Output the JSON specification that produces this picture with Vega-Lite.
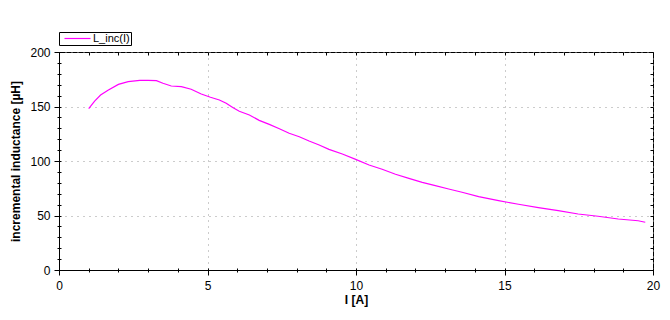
{
  "$schema": "https://vega.github.io/schema/vega-lite/v6.json",
  "width": 594,
  "height": 218,
  "autosize": "none",
  "padding": {"left": 59, "top": 52, "right": 17, "bottom": 50},
  "background": "white",
  "config": {
    "font": "Liberation Sans",
    "view": {"stroke": "black", "strokeWidth": 1},
    "axis": {
      "labelFont": "Liberation Sans",
      "titleFont": "Liberation Sans",
      "labelColor": "black",
      "titleColor": "black",
      "tickColor": "black",
      "domainColor": "black",
      "labelFontSize": 12,
      "titleFontSize": 12,
      "titleFontWeight": "bold"
    }
  },
  "data": {
    "values": [
      {"I": 1.0, "L": 148},
      {"I": 1.2, "L": 155},
      {"I": 1.4, "L": 160.5},
      {"I": 1.65, "L": 165},
      {"I": 2.0, "L": 170.3},
      {"I": 2.33, "L": 172.8},
      {"I": 2.72, "L": 174},
      {"I": 3.0, "L": 174},
      {"I": 3.28, "L": 173.7},
      {"I": 3.5, "L": 171.3},
      {"I": 3.78, "L": 168.8},
      {"I": 4.12, "L": 168.2},
      {"I": 4.45, "L": 165.8},
      {"I": 4.79, "L": 161.5},
      {"I": 5.1, "L": 158.5},
      {"I": 5.4, "L": 156},
      {"I": 5.63, "L": 153},
      {"I": 5.85, "L": 149},
      {"I": 6.07, "L": 145.6},
      {"I": 6.41, "L": 142.2},
      {"I": 6.74, "L": 137.3},
      {"I": 7.08, "L": 133.6},
      {"I": 7.42, "L": 129.6},
      {"I": 7.75, "L": 125.4},
      {"I": 8.09, "L": 122.3},
      {"I": 8.42, "L": 118.3},
      {"I": 8.76, "L": 114.7},
      {"I": 9.09, "L": 110.7},
      {"I": 9.54, "L": 106.4},
      {"I": 9.99, "L": 101.5},
      {"I": 10.44, "L": 96.3},
      {"I": 10.88, "L": 92.4},
      {"I": 11.33, "L": 87.8},
      {"I": 11.78, "L": 84.1},
      {"I": 12.23, "L": 80.4},
      {"I": 12.67, "L": 77.4},
      {"I": 13.12, "L": 74.3},
      {"I": 13.57, "L": 71.3},
      {"I": 14.13, "L": 67.3},
      {"I": 14.8, "L": 63.6},
      {"I": 15.47, "L": 60.3},
      {"I": 16.14, "L": 57.2},
      {"I": 16.81, "L": 54.4},
      {"I": 17.48, "L": 51.4},
      {"I": 18.15, "L": 49.3},
      {"I": 18.83, "L": 46.8},
      {"I": 19.5, "L": 45.2},
      {"I": 19.74, "L": 43.8}
    ]
  },
  "resolve": {"axis": {"x": "independent", "y": "independent"}},
  "layer": [
    {
      "mark": {"type": "line", "strokeWidth": 1.2},
      "encoding": {
        "x": {
          "field": "I", "type": "quantitative",
          "scale": {"domain": [0, 20], "nice": false, "zero": false},
          "axis": {
            "orient": "bottom", "values": [0, 5, 10, 15, 20], "title": "I [A]",
            "grid": true, "gridDash": [1, 5], "gridColor": "#999999", "gridWidth": 1,
            "tickSize": 5, "labelPadding": 5, "titlePadding": 3, "labelFlush": false
          }
        },
        "y": {
          "field": "L", "type": "quantitative",
          "scale": {"domain": [0, 200], "nice": false},
          "axis": {
            "orient": "left", "values": [0, 50, 100, 150, 200],
            "title": "incremental inductance [µH]",
            "grid": true, "gridDash": [1, 5], "gridColor": "#999999", "gridWidth": 1,
            "tickSize": 5, "labelPadding": 4, "titlePadding": 7, "labelFlush": false
          }
        },
        "color": {
          "datum": "L_inc(I)",
          "scale": {"range": ["#ff00ff"]},
          "legend": {
            "orient": "none", "legendX": 0, "legendY": -20, "title": null,
            "strokeColor": "black", "fillColor": "white", "padding": 1,
            "symbolType": "M-1,0L25,0", "symbolSize": 4, "symbolStrokeWidth": 1.2,
            "labelFontSize": 11, "labelOffset": 22, "labelColor": "black",
            "labelFont": "Liberation Sans"
          }
        }
      }
    },
    {
      "mark": {"type": "line", "strokeOpacity": 0},
      "encoding": {
        "x": {
          "field": "I", "type": "quantitative",
          "axis": {
            "orient": "bottom",
            "values": [0,1,2,3,4,5,6,7,8,9,10,11,12,13,14,15,16,17,18,19,20],
            "labels": false, "domain": false, "grid": false, "title": null,
            "tickSize": 4, "offset": -2
          }
        },
        "y": {
          "field": "L", "type": "quantitative",
          "axis": {
            "orient": "left",
            "values": [0,10,20,30,40,50,60,70,80,90,100,110,120,130,140,150,160,170,180,190,200],
            "labels": false, "domain": false, "grid": false, "title": null,
            "tickSize": 4, "offset": -2
          }
        }
      }
    },
    {
      "mark": {"type": "line", "strokeOpacity": 0},
      "encoding": {
        "x": {
          "field": "I", "type": "quantitative",
          "axis": {
            "orient": "top",
            "values": [0,1,2,3,4,5,6,7,8,9,10,11,12,13,14,15,16,17,18,19,20],
            "labels": false, "domain": false, "grid": false, "title": null,
            "tickSize": 3, "offset": -3
          }
        },
        "y": {
          "field": "L", "type": "quantitative",
          "axis": {
            "orient": "right",
            "values": [0,10,20,30,40,50,60,70,80,90,100,110,120,130,140,150,160,170,180,190,200],
            "labels": false, "domain": false, "grid": false, "title": null,
            "tickSize": 3, "offset": -3
          }
        }
      }
    }
  ]
}
